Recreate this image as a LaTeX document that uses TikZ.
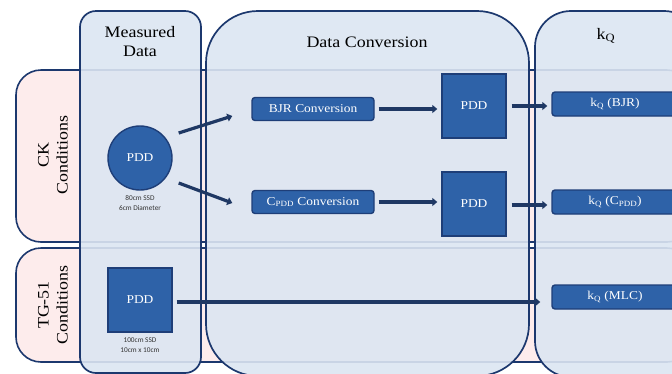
\documentclass[tikz,border=0pt]{standalone}
\usepackage{fontspec}
\setmainfont{Liberation Serif}[FakeStretch=1.12]
\newfontfamily\capfont{Carlito}
\usetikzlibrary{arrows.meta,calc}
\definecolor{colfill}{RGB}{220,230,242}
\definecolor{bord}{RGB}{28,56,110}
\definecolor{boxfill}{RGB}{46,98,168}
\definecolor{boxbord}{RGB}{30,62,120}
\definecolor{rowfill}{RGB}{253,236,236}
\definecolor{arrc}{RGB}{31,56,100}
\tikzset{
  rowbox/.style={draw=bord,line width=1.6pt,fill=rowfill},
  colbox/.style={draw=bord,line width=1.7pt,fill=colfill,fill opacity=0.9,draw opacity=1},
  head/.style={font=\fontsize{16}{19}\selectfont,align=center,text=black},
  pddbox/.style={draw=boxbord,line width=1.4pt,fill=boxfill,text=white,minimum width=64pt,minimum height=64pt,font=\fontsize{12}{14}\selectfont,inner sep=0pt},
  pddcirc/.style={circle,draw=boxbord,line width=1.4pt,fill=boxfill,text=white,minimum size=64pt,font=\fontsize{12}{14}\selectfont,inner sep=0pt},
  convbox/.style={draw=boxbord,line width=1.4pt,fill=boxfill,text=white,rounded corners=3pt,minimum width=122pt,minimum height=23pt,font=\fontsize{12}{14}\selectfont,inner sep=0pt},
  kbox/.style={draw=boxbord,line width=1.4pt,fill=boxfill,text=white,rounded corners=3pt,minimum width=126pt,minimum height=24pt,font=\fontsize{12}{14}\selectfont,inner sep=0pt},
  captext/.style={font=\capfont\fontsize{7.3}{9.3}\selectfont,align=center,text=black!80},
  arr/.style={draw=arrc,line width=3.2pt,-{Triangle[length=5pt,width=8pt]}}
}
\begin{document}
\begin{tikzpicture}[x=1pt,y=-1pt]
\useasboundingbox (0,0) rectangle (672,373);
\begin{scope}
\clip (0,0) rectangle (672,373);
% rows
\draw[rowbox,rounded corners=25pt] (16,70) rectangle (692,242);
\draw[rowbox,rounded corners=25pt] (16,248) rectangle (692,362);
% columns
\draw[colbox,rounded corners=16pt] (80,11) rectangle (201,373);
\draw[colbox,rounded corners=52pt] (206,11) rectangle (529,376);
\draw[colbox,rounded corners=36pt] (535,11) rectangle (700,377);
% headers
\node[head] (hm) at (140,42) {Measured\\Data};
\node[head] (hd) at (367,42) {Data Conversion};
\node[head] (hk) at (606,36) {k\textsubscript{Q}};
\node[head,rotate=90] (rck) at (53,155) {CK\\Conditions};
\node[head,rotate=90] (rtg) at (53,305) {TG-51\\Conditions};
% nodes
\node[pddcirc] (pdd1) at (140,158) {PDD};
\node[captext] (cap1) at (140,203) {80cm SSD\\6cm Diameter};
\node[pddbox] (pdd2) at (140,300) {PDD};
\node[captext] (cap2) at (140,345) {100cm SSD\\10cm x 10cm};
\node[convbox] (bjr) at (313,109) {BJR Conversion};
\node[convbox] (cpdd) at (313,202) {C\textsubscript{PDD} Conversion};
\node[pddbox] (pddA) at (474,106) {PDD};
\node[pddbox] (pddB) at (474,204) {PDD};
\node[kbox] (kbjr) at (615,104) {k\textsubscript{Q} (BJR)};
\node[kbox] (kc) at (615,202) {k\textsubscript{Q} (C\textsubscript{PDD})};
\node[kbox] (kmlc) at (615,297) {k\textsubscript{Q} (MLC)};
% arrows
\draw[arr] ([shift={(6,-25)}]pdd1.east) -- ([shift={(-19,7)}]bjr.west);
\draw[arr] ([shift={(6,25)}]pdd1.east) -- ([shift={(-19,1)}]cpdd.west);
\draw[arr,shorten <=4pt,shorten >=4pt] (bjr.east) -- (bjr.east -| pddA.west);
\draw[arr,shorten <=4pt,shorten >=4pt] (cpdd.east) -- (cpdd.east -| pddB.west);
\draw[arr,shorten <=5pt,shorten >=4pt] ([yshift=0pt]pddA.east) -- (pddA.east -| kbjr.west);
\draw[arr,shorten <=5pt,shorten >=4pt] ([yshift=-1pt]pddB.east) -- ([yshift=-1pt]pddB.east -| kc.west);
\draw[arr,shorten <=4pt,shorten >=11pt] ([yshift=-2pt]pdd2.east) -- ([yshift=-2pt]pdd2.east -| kmlc.west);
\end{scope}
\end{tikzpicture}
\end{document}
